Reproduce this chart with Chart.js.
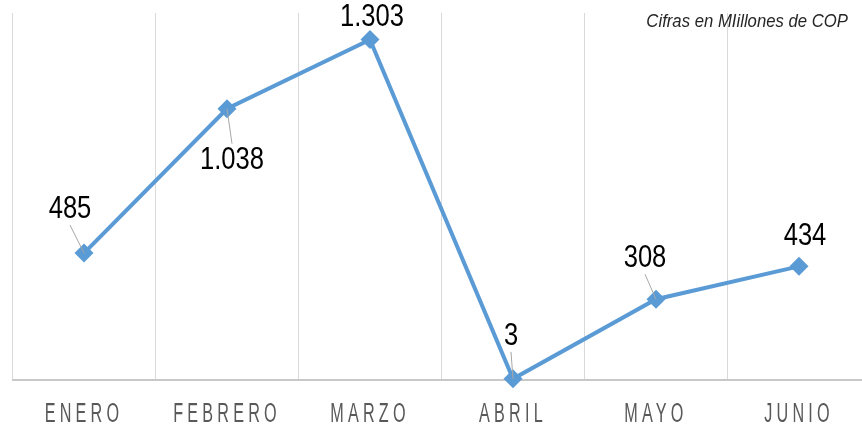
<!DOCTYPE html>
<html>
<head>
<meta charset="utf-8">
<script src="https://cdn.jsdelivr.net/npm/chart.js@4.4.1/dist/chart.umd.min.js"></script>
<style>
  html, body { margin: 0; padding: 0; background: #fff; overflow: hidden; }
  #wrap { width: 880px; height: 450px; }
</style>
</head>
<body>
<div id="wrap"><canvas id="c" width="880" height="450"></canvas></div>
<script>
const categories = ['ENERO', 'FEBRERO', 'MARZO', 'ABRIL', 'MAYO', 'JUNIO'];
const values = [485, 1038, 1303, 3, 308, 434];
const valueLabels = ['485', '1.038', '1.303', '3', '308', '434'];
const titleText = 'Cifras en MIillones de COP';

// label placement relative to each point (style, not data)
const labelOffsets = [[-14, -44], [5, 51], [2, -22], [-2, -43], [-11, -41], [6, -30]];
const showLeader = [true, true, false, true, true, false];

const lineColor = '#5B9BD5';

// condensed rendering of axis tick labels (no narrow font installed)
const axisFontPlugin = {
  id: 'axisFont',
  beforeDraw(chart) {
    const ctx = chart.ctx;
    ctx.letterSpacing = '7px';
    if (!ctx._origFillText) {
      ctx._origFillText = ctx.fillText;
    }
    ctx.fillText = function (t, x, y, mw) {
      this.save();
      this.translate(x, y);
      this.scale(0.6, 1);
      this._origFillText(t, 0, 0);
      this.restore();
    };
  },
  beforeDatasetsDraw(chart) {
    const ctx = chart.ctx;
    ctx.letterSpacing = '0px';
    if (ctx._origFillText) ctx.fillText = ctx._origFillText;
  }
};

function condensedText(ctx, text, x, y, sx) {
  ctx.save();
  ctx.translate(x, y);
  ctx.scale(sx, 1);
  ctx.fillText(text, 0, 0);
  ctx.restore();
}

const labelPlugin = {
  id: 'valueLabels',
  afterDatasetsDraw(chart) {
    const ctx = chart.ctx;
    const meta = chart.getDatasetMeta(0);
    ctx.save();
    ctx.letterSpacing = '0px';
    meta.data.forEach((pt, i) => {
      const lx = pt.x + labelOffsets[i][0];
      const ly = pt.y + labelOffsets[i][1];
      if (showLeader[i]) {
        const s = pt.y > ly ? 1 : -1;
        ctx.beginPath();
        ctx.strokeStyle = '#a6a6a6';
        ctx.lineWidth = 1;
        ctx.moveTo(lx, ly + s * 16);
        ctx.lineTo(pt.x, pt.y);
        ctx.stroke();
      }
      ctx.fillStyle = '#000';
      ctx.font = '32px "Liberation Sans", Arial, sans-serif';
      ctx.textAlign = 'center';
      ctx.textBaseline = 'middle';
      condensedText(ctx, valueLabels[i], lx, ly, 0.8);
    });
    // title
    ctx.font = 'italic 19px "Liberation Sans", Arial, sans-serif';
    ctx.fillStyle = '#262626';
    ctx.textAlign = 'right';
    ctx.textBaseline = 'middle';
    condensedText(ctx, titleText, 848, 22, 0.88);
    ctx.restore();
  }
};

new Chart(document.getElementById('c'), {
  type: 'line',
  data: {
    labels: categories,
    datasets: [{
      data: values,
      borderColor: lineColor,
      backgroundColor: lineColor,
      borderWidth: 4,
      pointStyle: 'rectRot',
      pointRadius: 9.5,
      pointHoverRadius: 9.5,
      pointBackgroundColor: lineColor,
      pointBorderColor: lineColor,
      pointBorderWidth: 0,
      tension: 0,
      clip: false
    }]
  },
  options: {
    responsive: false,
    animation: false,
    events: [],
    layout: { padding: { left: 12.5, right: 6.5, top: 13, bottom: 0 } },
    plugins: { legend: { display: false }, tooltip: { enabled: false } },
    scales: {
      x: {
        offset: true,
        grid: { display: true, offset: true, color: '#d9d9d9', lineWidth: 1, drawTicks: false },
        border: { display: true, color: '#c8c8c8', width: 2 },
        ticks: {
          autoSkip: false, maxRotation: 0, minRotation: 0, padding: 19,
          color: '#595959',
          font: { family: '"Liberation Sans", Arial, sans-serif', size: 27 }
        }
      },
      y: {
        display: false,
        min: 0,
        max: 1405
      }
    }
  },
  plugins: [axisFontPlugin, labelPlugin]
});
</script>
</body>
</html>
